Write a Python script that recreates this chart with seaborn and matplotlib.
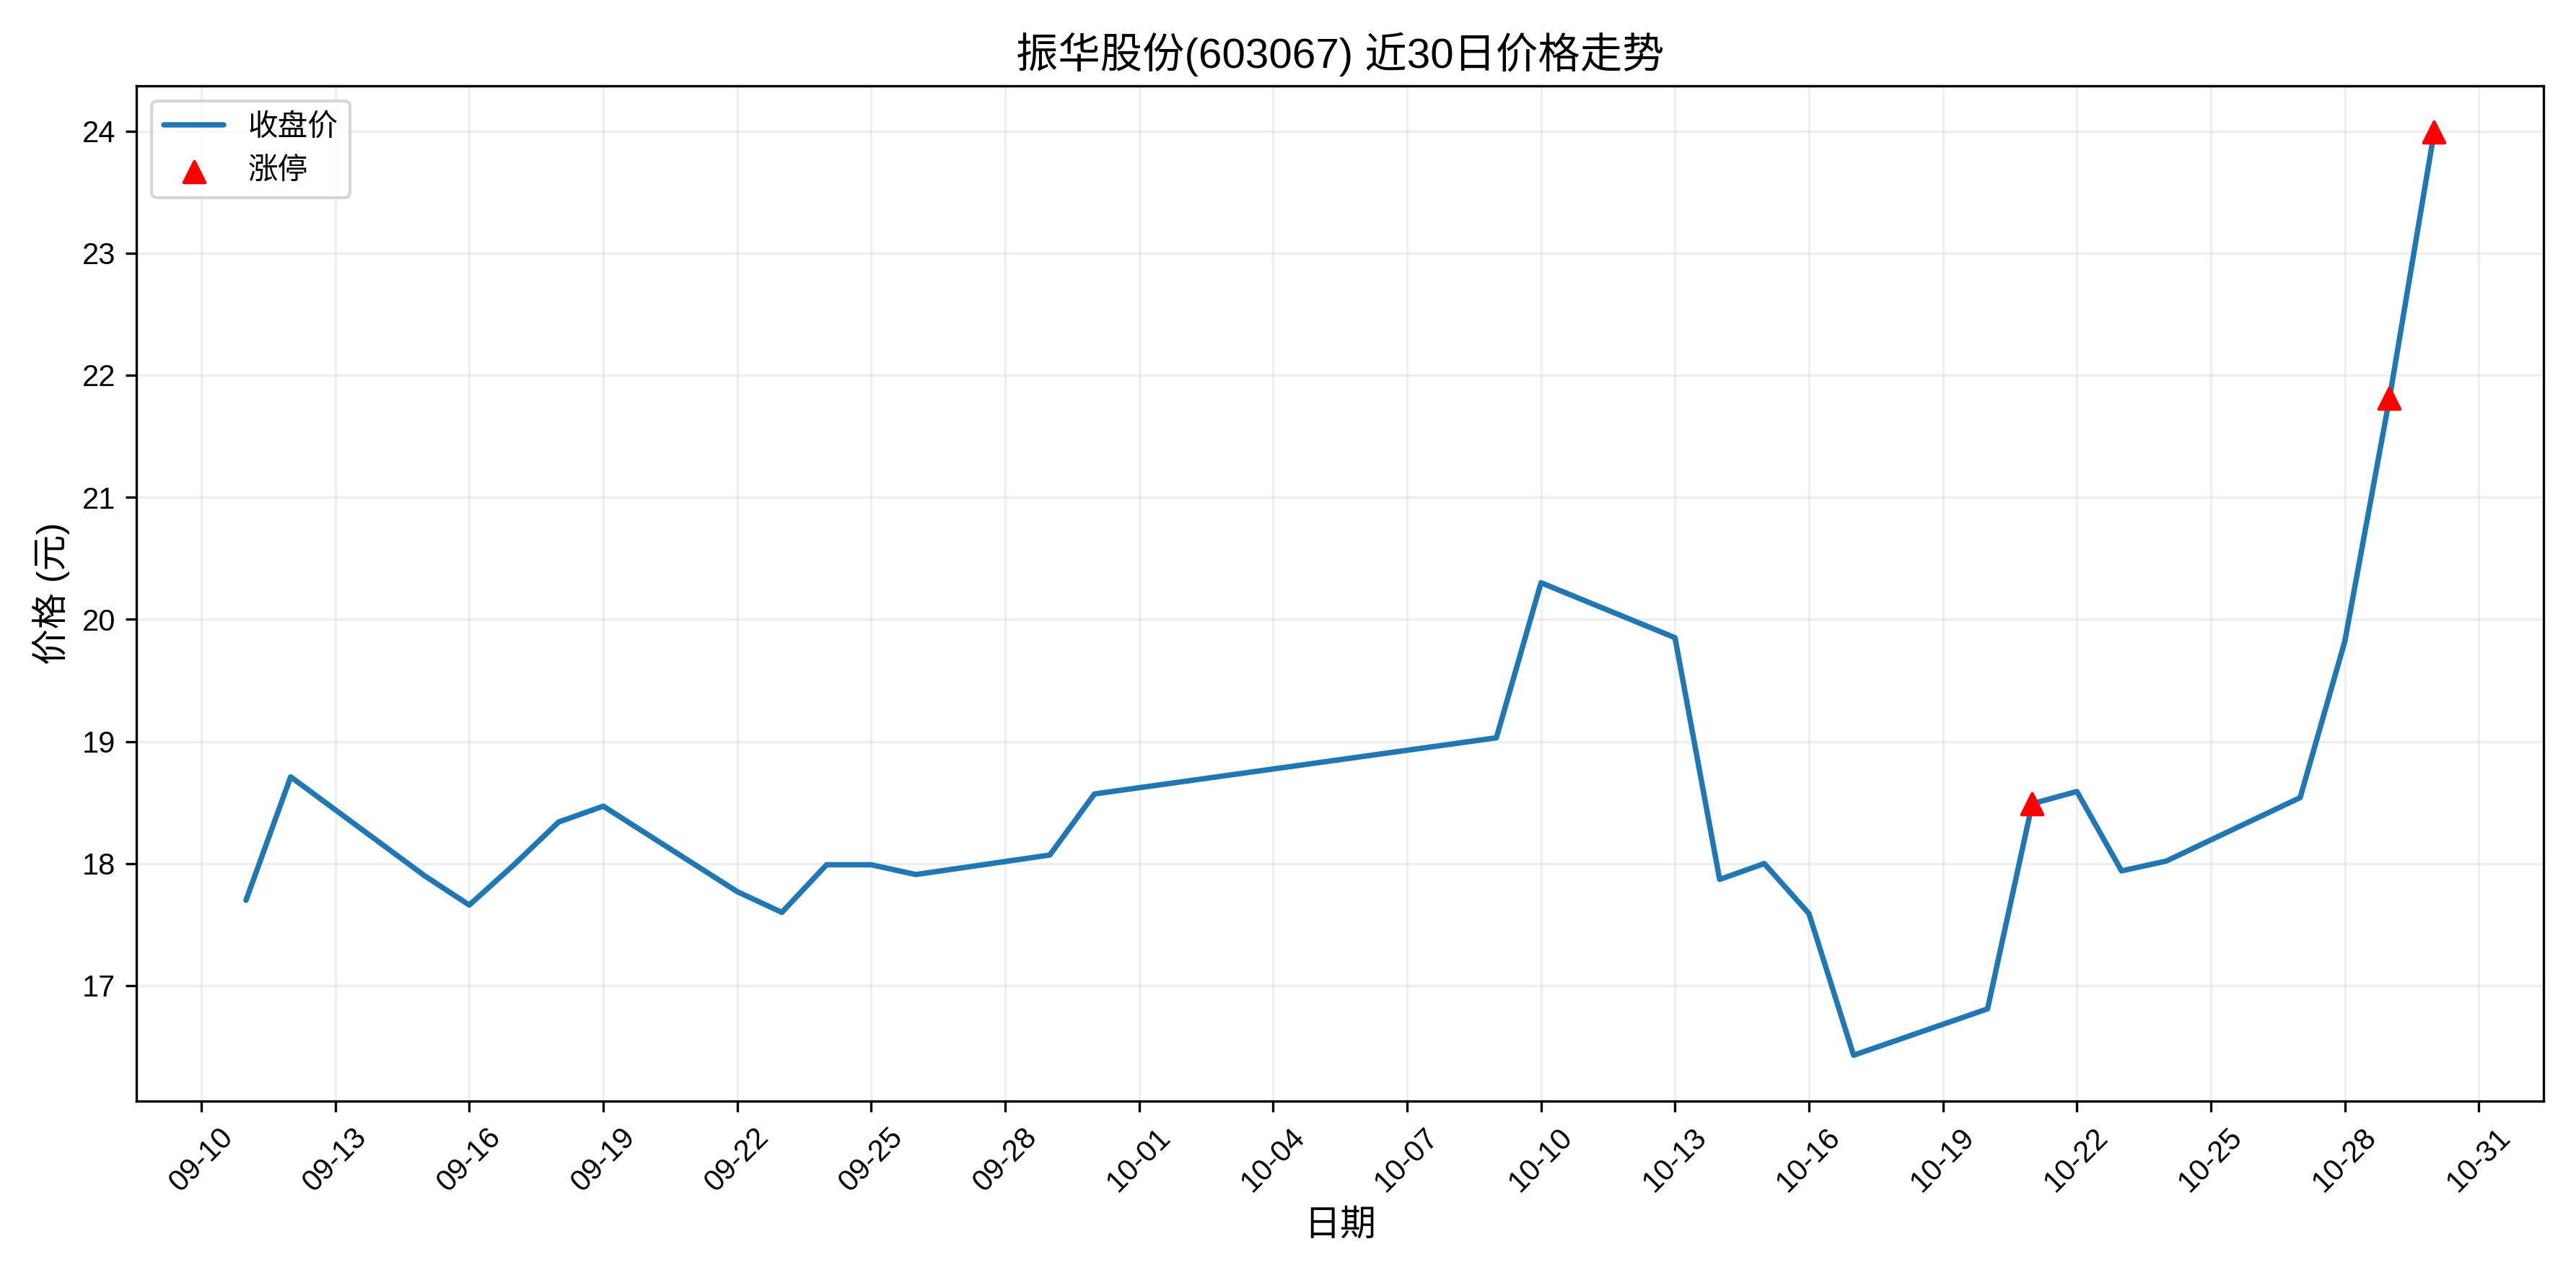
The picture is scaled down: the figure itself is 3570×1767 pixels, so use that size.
import matplotlib
matplotlib.use("Agg")
import matplotlib.pyplot as plt
import matplotlib.dates as mdates
import seaborn as sns
import pandas as pd

sns.set_style("ticks")
plt.rcParams['font.family'] = ['Liberation Sans', 'Noto Sans CJK SC', 'DejaVu Sans']
plt.rcParams['axes.unicode_minus'] = False
for k in ['text.color', 'axes.labelcolor', 'xtick.color', 'ytick.color', 'axes.edgecolor']:
    plt.rcParams[k] = 'black'

dates = ["2025-09-11","2025-09-12","2025-09-15","2025-09-16","2025-09-17","2025-09-18","2025-09-19",
         "2025-09-22","2025-09-23","2025-09-24","2025-09-25","2025-09-26","2025-09-29","2025-09-30",
         "2025-10-09","2025-10-10","2025-10-13","2025-10-14","2025-10-15","2025-10-16","2025-10-17",
         "2025-10-20","2025-10-21","2025-10-22","2025-10-23","2025-10-24","2025-10-27","2025-10-28",
         "2025-10-29","2025-10-30"]
close = [17.70,18.71,17.90,17.66,17.99,18.34,18.47,17.77,17.60,17.99,17.99,17.91,18.07,18.57,
         19.03,20.30,19.85,17.87,18.00,17.59,16.43,16.81,18.49,18.59,17.94,18.02,18.54,19.82,21.81,23.99]
limit_dates = ["2025-10-21","2025-10-29","2025-10-30"]

df = pd.DataFrame({"date": pd.to_datetime(dates), "close": close})
lim = df[df["date"].isin(pd.to_datetime(limit_dates))]

fig, ax = plt.subplots(figsize=(11.9, 5.89), dpi=300)
sns.lineplot(data=df, x="date", y="close", ax=ax, color="#1f77b4", linewidth=1.8, label="收盘价")
ax.scatter(lim["date"], lim["close"], color="red", marker="^", s=50, zorder=5, label="涨停")

ax.set_title("振华股份(603067) 近30日价格走势", fontsize=14)
ax.set_xlabel("日期", fontsize=12)
ax.set_ylabel("价格 (元)", fontsize=12)
ax.set_xticks(pd.date_range("2025-09-10", "2025-10-31", freq="3D"))
ax.xaxis.set_major_formatter(mdates.DateFormatter("%m-%d"))
ax.margins(x=0.05)
plt.setp(ax.get_xticklabels(), rotation=45)
ax.grid(True, alpha=0.3)
ax.legend(loc="upper left")
fig.tight_layout()
fig.savefig("out.png", dpi=300)
